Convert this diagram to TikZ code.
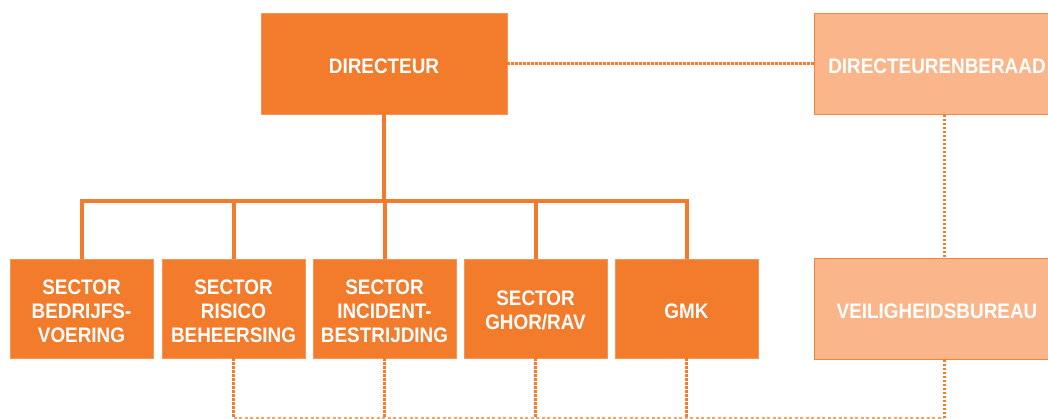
\documentclass[tikz,border=0pt]{standalone}
\usepackage{fontspec}
\setmainfont{Liberation Sans}[FakeStretch=0.9]
\definecolor{org}{HTML}{F37B2C}
\definecolor{lorg}{HTML}{FAB68A}
\begin{document}
\begin{tikzpicture}[x=1pt,y=-1pt,
  box/.style={fill=org, draw=org!80!white, line width=0.6pt, text=white, font=\fontsize{21}{24}\selectfont\bfseries, align=center, inner sep=0pt},
  tshift/.style={execute at begin node={\rule{0pt}{#1}}},
  lbox/.style={box, fill=lorg, draw=org!85!lorg},
  bigbox/.style={minimum width=246pt, minimum height=101pt, tshift=20pt},
  smallbox/.style={minimum width=143pt, minimum height=99pt},
  solidline/.style={draw=org, line width=4pt},
  dotline/.style={draw=org, line width=3pt, dash pattern=on 2.2pt off 1.8pt},
  thindot/.style={draw=org!70!white, line width=1.8pt, dash pattern=on 3pt off 2.5pt}]
\useasboundingbox (0,0) rectangle (1048,419);
\clip (0,0) rectangle (1048,419);
\node[box,bigbox] (dir) at (384,63.5) {DIRECTEUR};
\node[lbox,bigbox] (dirb) at (937,64) {DIRECTEURENBERAAD};
\node[lbox,bigbox] (veil) at (937,309) {VEILIGHEIDSBUREAU};
\node[box,smallbox,tshift=69pt] (s1) at (81.5,308.5) {SECTOR\\BEDRIJFS-\\VOERING};
\node[box,smallbox,tshift=69pt] (s2) at (233.5,308.5) {SECTOR\\RISICO\\BEHEERSING};
\node[box,smallbox,tshift=69pt] (s3) at (384.5,308.5) {SECTOR\\INCIDENT-\\BESTRIJDING};
\node[box,smallbox,tshift=43pt] (s4) at (535.5,308.5) {SECTOR\\GHOR/RAV};
\node[box,smallbox,tshift=20pt] (s5) at (686.5,308.5) {GMK};
\coordinate (bus) at (0,201.5);
\coordinate (vx) at (944,0);
\coordinate (bot) at (0,418);
% solid tree
\draw[solidline] (dir.south) -- (dir.south |- bus);
\draw[solidline, line join=miter] (s1.north) -- (s1.north |- bus) -- (s5.north |- bus) -- (s5.north);
\foreach \n in {s2,s3,s4}{\draw[solidline] (\n.north) -- (\n.north |- bus);}
% dotted
\draw[dotline] (dir.east) -- (dirb.west |- dir.east);
\draw[dotline] (dirb.south -| vx) -- (veil.north -| vx);
\draw[dotline] (veil.south -| vx) -- (vx |- bot);
\foreach \n in {s2,s3,s4,s5}{\draw[dotline] (\n.south) -- (\n.south |- bot);}
\draw[thindot] (s2.south |- bot) -- (vx |- bot);
\end{tikzpicture}
\end{document}
